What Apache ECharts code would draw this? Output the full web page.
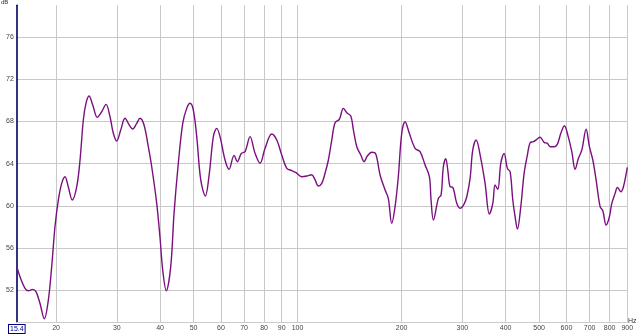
<!DOCTYPE html>
<html>
<head>
<meta charset="utf-8">
<script src="https://cdn.jsdelivr.net/npm/echarts@6/dist/echarts.min.js"></script>
<style>html,body{margin:0;padding:0;background:#fff}#c{width:640px;height:334px}</style>
</head>
<body>
<div id="c"></div>
<script>
const startFreq = 15.4;
const endFreq = 900;
const xTickFreqs = [20, 30, 40, 50, 60, 70, 80, 90, 100, 200, 300, 400, 500, 600, 700, 800, 900];
const yTickValues = [52, 56, 60, 64, 68, 72, 76];
const yMin = 49, yMax = 79;

const freqs = [
  15.4, 15.73, 16.27, 16.63, 17.12, 17.5, 17.97, 18.5, 19.0, 19.43,
  19.86, 20.31, 20.77, 21.23, 21.7, 22.29, 22.96, 23.47, 23.99, 24.42,
  24.92, 25.54, 26.33, 27.12, 27.91, 28.66, 29.3, 29.97, 30.78, 31.67,
  32.59, 33.34, 34.24, 35.0, 35.95, 36.99, 37.84, 39.12, 39.99, 40.72,
  41.7, 42.95, 43.91, 45.18, 46.53, 47.78, 48.85, 49.93, 51.08, 52.46,
  54.09, 55.55, 57.06, 58.36, 59.66, 61.68, 63.35, 65.49, 66.95, 68.76,
  70.48, 72.87, 75.33, 77.89, 80.53, 84.2, 87.06, 90.01, 93.06, 96.21,
  99.01, 102.8, 106.3, 109.9, 112.4, 114.9, 117.5, 120.1, 122.8, 125.6,
  128.4, 132.1, 135.7, 138.8, 142.6, 145.1, 148.4, 152.4, 155.8, 159.2,
  164.0, 168.4, 173.3, 179.2, 183.1, 187.3, 191.5, 195.7, 200.2, 204.7,
  210.6, 218.8, 226.2, 233.9, 240.7, 243.4, 247.2, 255.6, 260.2, 264.2,
  268.5, 272.1, 276.3, 281.3, 288.9, 295.3, 303.3, 308.8, 315.7, 321.4,
  328.6, 339.0, 348.9, 359.0, 367.3, 372.9, 379.7, 387.4, 396.0, 404.8,
  412.2, 419.6, 426.1, 432.7, 442.6, 452.5, 462.5, 470.9, 481.4, 492.4,
  503.4, 517.0, 528.5, 538.1, 552.6, 564.9, 577.9, 591.9, 605.5, 621.8,
  635.7, 649.8, 664.7, 684.0, 699.2, 715.3, 731.1, 750.9, 764.5, 781.5,
  798.9, 811.8, 829.9, 842.7, 862.0, 877.1, 900
];
const levels = [
  54.24, 53.29, 52.19, 51.96, 52.09, 51.87, 50.77, 49.31, 51.08, 54.24,
  58.02, 60.55, 62.13, 62.76, 61.81, 60.55, 61.81, 64.34, 68.13, 69.71,
  70.40, 69.55, 68.38, 68.91, 69.61, 68.44, 66.87, 66.14, 67.18, 68.29,
  67.65, 67.27, 67.81, 68.29, 67.65, 65.60, 63.70, 60.24, 57.0, 53.92,
  51.96, 54.24, 59.29, 64.03, 67.81, 69.23, 69.71, 69.07, 66.55, 62.45,
  60.93, 63.08, 66.55, 67.34, 66.55, 64.34, 63.46, 64.78, 64.18, 64.97,
  65.13, 66.55, 64.97, 64.03, 65.45, 66.80, 66.23, 64.81, 63.55, 63.33,
  63.14, 62.76, 62.82, 62.95, 62.45, 61.88, 62.13, 63.08, 64.34, 66.23,
  67.87, 68.19, 69.23, 68.82, 68.50, 67.18, 65.60, 64.81, 64.18, 64.72,
  65.07, 64.91, 62.92, 61.50, 60.71, 58.34, 59.92, 62.76, 66.87, 67.97,
  66.87, 65.45, 65.13, 63.87, 62.76, 60.55, 58.66, 60.71, 61.02, 63.70,
  64.46, 63.39, 61.81, 61.75, 60.24, 59.77, 60.17, 60.86, 62.60, 65.29,
  66.23, 64.50, 62.13, 59.22, 60.24, 61.97, 61.56, 64.03, 64.97, 63.55,
  63.23, 60.55, 58.97, 57.80, 59.92, 63.08, 64.81, 65.98, 66.07, 66.30,
  66.49, 66.01, 65.92, 65.60, 65.60, 65.85, 66.87, 67.59, 66.70, 65.13,
  63.46, 64.50, 65.29, 67.25, 65.60, 64.34, 62.45, 59.92, 59.54, 58.18,
  58.97, 60.24, 61.18, 61.75, 61.34, 61.81, 63.65
];

const lg = Math.log10;
const xMin = lg(startFreq), xMax = lg(endFreq);
const xTickPos = xTickFreqs.map(lg);
const seriesData = freqs.map((f, i) => [lg(f), levels[i]]);
const font = 'Liberation Sans';

const chart = echarts.init(document.getElementById('c'), null, {renderer: 'canvas'});
chart.setOption({
  animation: false,
  backgroundColor: '#ffffff',
  grid: {left: 16.8, right: 12.7, top: 5.2, bottom: 12, containLabel: false},
  xAxis: {
    type: 'value', min: xMin, max: xMax,
    axisLine: {show: true, lineStyle: {color: '#cccccc', width: 1}},
    axisTick: {show: false, customValues: xTickPos},
    splitLine: {show: true, lineStyle: {color: '#c8c8c8', width: 1}},
    axisLabel: {
      customValues: [xMin].concat(xTickPos),
      fontSize: 7, fontFamily: font, color: '#444', margin: 3,
      formatter: function (v) {
        if (Math.abs(v - xMin) < 1e-6) return '{box|' + startFreq + '}';
        return String(Math.round(Math.pow(10, v)));
      },
      rich: {box: {fontSize: 7, fontFamily: font, color: '#000080', borderColor: '#000080', borderWidth: 1, padding: [1, 1, 0, 1], backgroundColor: '#fff'}}
    }
  },
  yAxis: {
    type: 'value', min: yMin, max: yMax,
    axisLine: {show: true, lineStyle: {color: '#000060', width: 1.6}},
    axisTick: {show: false, customValues: yTickValues},
    splitLine: {show: true, lineStyle: {color: '#c8c8c8', width: 1}},
    axisLabel: {customValues: yTickValues, fontSize: 7, fontFamily: font, color: '#444', margin: 3}
  },
  graphic: [
    {type: 'text', left: 1, top: -1, style: {text: 'dB', fontSize: 6, fontFamily: font, fill: '#333'}},
    {type: 'text', left: 628, top: 318, style: {text: 'Hz', fontSize: 7, fontFamily: font, fill: '#333'}}
  ],
  series: [{
    type: 'line', data: seriesData, showSymbol: false, smooth: 0.35,
    lineStyle: {color: '#7a107f', width: 1.4}, clip: true
  }]
});
</script>
</body>
</html>
